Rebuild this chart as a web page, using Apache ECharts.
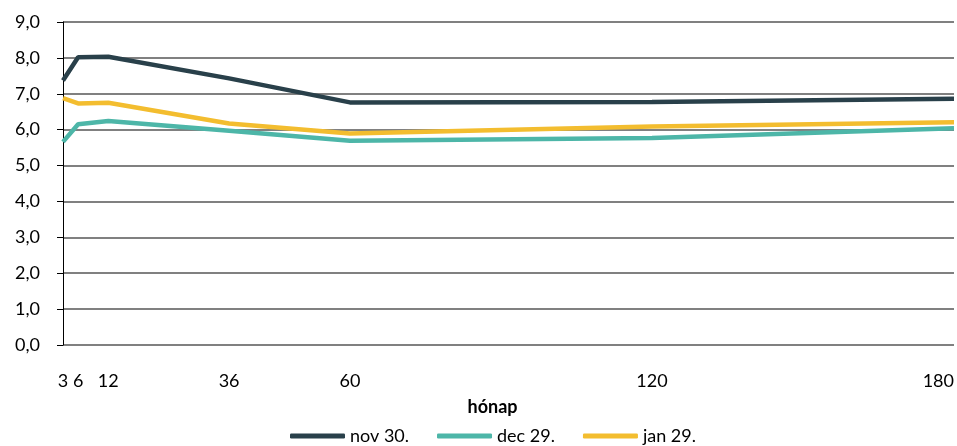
<!DOCTYPE html>
<html><head><meta charset="utf-8">
<script src="https://cdn.jsdelivr.net/npm/echarts@6/dist/echarts.min.js"></script>
<style>html,body{margin:0;padding:0;background:#fff}#c{width:957px;height:446px}</style>
</head><body><div id="c"></div>
<script>
var months = [3, 6, 12, 36, 60, 120, 180];
var tickLabels = [3, 6, 12, 36, 60, 120, 180];
var seriesNames = ['nov 30.', 'dec 29.', 'jan 29.'];
var nov30 = [7.37, 8.02, 8.03, 7.43, 6.76, 6.77, 6.86];
var dec29 = [5.66, 6.15, 6.24, 5.97, 5.69, 5.77, 6.04];
var jan29 = [6.88, 6.73, 6.75, 6.17, 5.89, 6.09, 6.21];
var colors = ['#29404a', '#4db6a8', '#f3bd2f'];

function pairs(vals){ return months.map(function(m,i){ return [m, vals[i]]; }); }
var font = 'Lato, "Open Sans", sans-serif';
var chart = echarts.init(document.getElementById('c'));
chart.setOption({
  animation: false,
  color: colors,
  grid: { left: 63, right: 0, top: 22, bottom: 101, containLabel: false },
  xAxis: {
    type: 'value', min: 3, max: 180,
    name: 'hónap', nameLocation: 'middle', nameGap: 53,
    nameTextStyle: { fontFamily: font, fontSize: 18, fontWeight: 'bold', color: '#000', padding: [0, 32, 0, 0] },
    axisLine: { show: false },
    axisTick: { show: false },
    splitLine: { show: false },
    axisLabel: { customValues: tickLabels, margin: 27, fontFamily: font, fontSize: 18, color: '#000', alignMaxLabel: 'right' }
  },
  yAxis: {
    type: 'value', min: 0, max: 9, interval: 1,
    axisLine: { show: true, lineStyle: { color: '#000', width: 1 } },
    axisTick: { show: true, length: 6, lineStyle: { color: '#000' } },
    splitLine: { show: true, lineStyle: { color: '#808080', width: 2 } },
    axisLabel: { margin: 23, fontFamily: font, fontSize: 18, color: '#000',
      formatter: function(v){ return v.toFixed(1).replace('.', ','); } }
  },
  legend: {
    top: 427, left: 290, padding: 0, itemGap: 28, itemWidth: 55, itemHeight: 5,
    icon: 'roundRect',
    textStyle: { fontFamily: font, fontSize: 18, color: '#000' },
    data: seriesNames
  },
  series: [
    { name: seriesNames[0], type: 'line', data: pairs(nov30), symbol: 'none', lineStyle: { width: 4.5 } },
    { name: seriesNames[1], type: 'line', data: pairs(dec29), symbol: 'none', lineStyle: { width: 4.5 } },
    { name: seriesNames[2], type: 'line', data: pairs(jan29), symbol: 'none', lineStyle: { width: 4.5 } }
  ]
});
</script></body></html>
